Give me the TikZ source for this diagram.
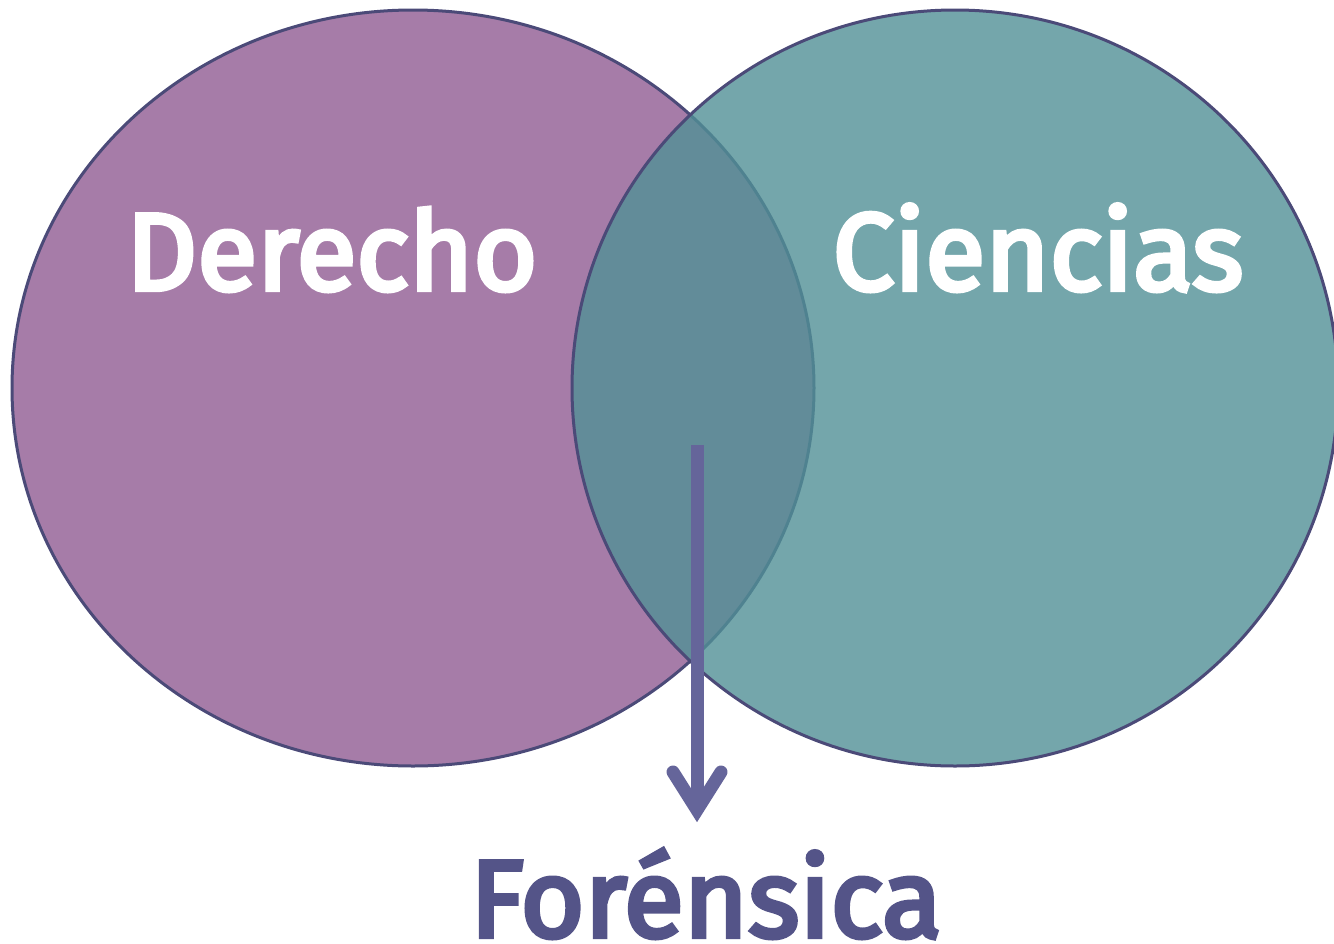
\documentclass[tikz,border=0pt]{standalone}
\usepackage{fontspec}
\setmainfont{Fira Sans}
\newfontfamily\wordfont[FakeBold=4]{Fira Sans}
\usetikzlibrary{shapes.geometric}

\definecolor{derechofill}{HTML}{A67CA8}
\definecolor{cienciasfill}{HTML}{519096}
\definecolor{rimcolor}{HTML}{4B4A78}
\definecolor{arrowcolor}{HTML}{65659A}
\definecolor{forensicacolor}{HTML}{545488}

\tikzset{
    circlebox/.style={ellipse, draw=rimcolor, line width=3pt, inner sep=0pt},
    bigword/.style={font=\wordfont\fontsize{110}{120}\selectfont, inner sep=0pt, anchor=base}
}

\begin{document}
\begin{tikzpicture}[x=1pt, y=-1pt]
        \clip (0,0) rectangle (1334,943);

        \node[circlebox, fill=derechofill, minimum width=802pt, minimum height=756pt] (derecho) at (413,388) {};
        \node[circlebox, fill=cienciasfill, fill opacity=0.8, minimum width=766pt, minimum height=756pt] (ciencias) at (955,388) {};

        \node[bigword, text=white] (derecholabel) at (332,290) {Derecho};
        \node[bigword, text=white] (ciencialabel) at (1038,290) {Ciencias};
        \node[bigword, text=forensicacolor] (forensica) at (706,937) {Forénsica};

        \coordinate (start) at (697,445);
        \coordinate (tip) at (697,810);

        \draw[arrowcolor, line width=13pt] (start) -- (tip);
        \draw[arrowcolor, line width=13pt, line cap=round, line join=miter] (tip) ++(-24,-38) -- (tip) -- ++(24,-38);
    \end{tikzpicture}
\end{document}
